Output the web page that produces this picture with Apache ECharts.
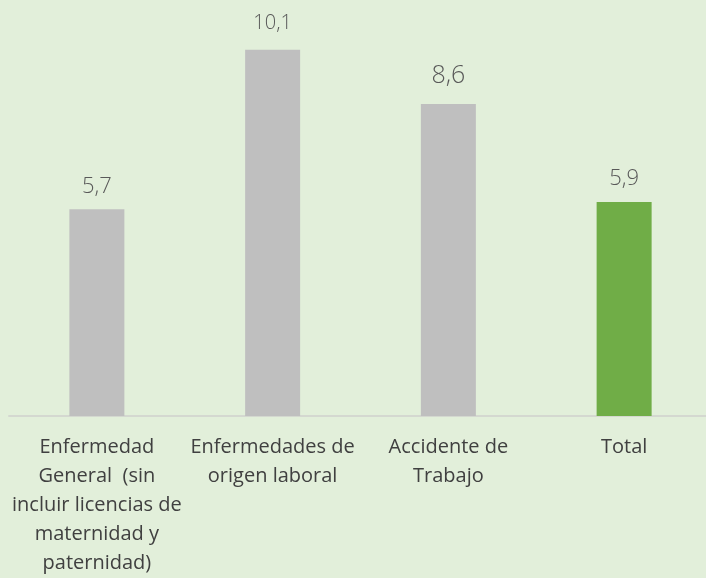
<!DOCTYPE html>
<html>
<head>
<meta charset="utf-8">
<script src="https://cdn.jsdelivr.net/npm/echarts@6/dist/echarts.min.js"></script>
<style>
  html, body { margin: 0; padding: 0; background: #e2efda; overflow: hidden; }
  #chart { width: 712px; height: 578px; }
</style>
</head>
<body>
<div id="chart"></div>
<script>
// categories (line breaks as in the original)
const categories = [
  "Enfermedad\nGeneral  (sin\nincluir licencias de\nmaternidad y\npaternidad)",
  "Enfermedades de\norigen laboral",
  "Accidente de\nTrabajo",
  "Total"
];
const values = [5.7, 10.1, 8.6, 5.9];
const barColors = ["#bfbfbf", "#bfbfbf", "#bfbfbf", "#70ad47"];
const labelSizes = [22, 20, 25, 22];
const labelGaps = [12, 16, 16, 12];

let chart = echarts.init(document.getElementById("chart"));

let option = {
  backgroundColor: "#e2efda",
  grid: { left: 9, right: 0, top: 17, bottom: 159 },
  xAxis: {
    type: "category",
    data: categories,
    axisLine: { lineStyle: { color: "#d4d8d0", width: 2 } },
    axisTick: { show: false },
    axisLabel: {
      color: "#404040",
      fontFamily: "Open Sans",
      fontSize: 20,
      lineHeight: 29,
      margin: 17,
      interval: 0
    }
  },
  yAxis: {
    type: "value",
    min: 0,
    max: 11,
    show: false,
    splitLine: { show: false }
  },
  series: [
    {
      type: "bar",
      barWidth: 55,
      data: values.map((v, i) => ({
        value: v,
        itemStyle: { color: barColors[i] },
        label: { fontSize: labelSizes[i], distance: labelGaps[i] }
      })),
      label: {
        show: true,
        position: "top",
        color: "#595959",
        fontFamily: "Open Sans",
        fontWeight: 300,
        formatter: p => String(p.value).replace(".", ",")
      }
    }
  ]
};
chart.setOption(option);
</script>
</body>
</html>
